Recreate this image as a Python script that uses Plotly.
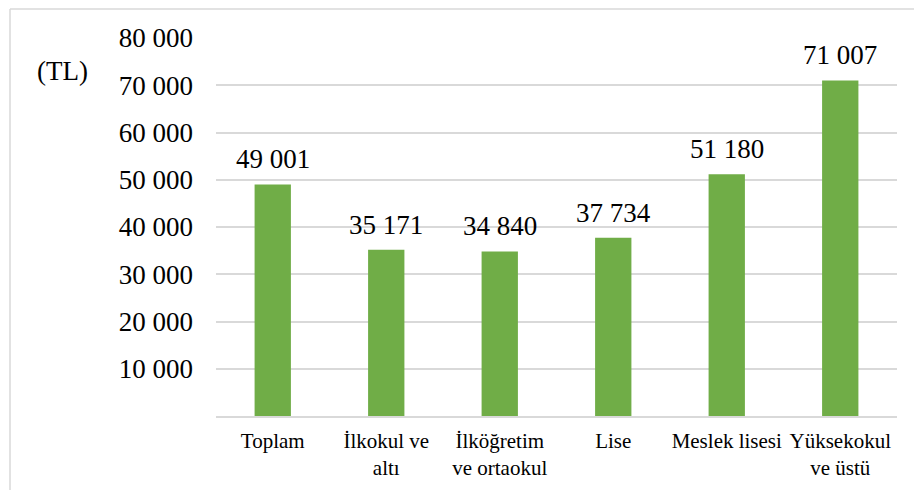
import plotly.graph_objects as go

categories = ["Toplam", "İlkokul ve<br>altı", "İlköğretim<br>ve ortaokul", "Lise", "Meslek lisesi", "Yüksekokul<br>ve üstü"]
values = [49001, 35171, 34840, 37734, 51180, 71007]
tick_vals = [10000, 20000, 30000, 40000, 50000, 60000, 70000, 80000]
tick_text = ["10 000", "20 000", "30 000", "40 000", "50 000", "60 000", "70 000", "80 000"]
unit_label = "(TL)"

FONT = "Liberation Serif, Times New Roman, serif"
GREEN = "#70AD47"
GRID = "#D9D9D9"

value_text = [f"{v:,}".replace(",", " ") for v in values]

fig = go.Figure(go.Bar(
    x=categories,
    y=values,
    marker=dict(color=GREEN, line=dict(width=0)),
    cliponaxis=False,
))

label_annotations = [
    dict(x=c, y=v, text=t, xref="x", yref="y", showarrow=False,
         xanchor="center", yanchor="bottom", yshift=8,
         font=dict(family=FONT, size=27, color="#000000"))
    for c, v, t in zip(categories, values, value_text)
]

fig.update_layout(
    width=922, height=490,
    margin=dict(l=208, r=33, t=30, b=82, autoexpand=False),
    paper_bgcolor="white", plot_bgcolor="white",
    font=dict(family=FONT, color="#000000"),
    bargap=0.68,
    showlegend=False,
    xaxis=dict(
        automargin=False,
        showgrid=False, showline=True, linecolor=GRID, linewidth=1.5,
        ticks="outside", ticklen=5, tickcolor="rgba(0,0,0,0)",
        tickfont=dict(family=FONT, size=21, color="#000000"),
        tickangle=0,
    ),
    yaxis=dict(
        automargin=False,
        range=[0, 80000], tickvals=tick_vals, ticktext=tick_text,
        showgrid=True, gridcolor=GRID, gridwidth=1.5, zeroline=False,
        showline=False, ticks="",
        ticklabelstandoff=22,
        tickfont=dict(family=FONT, size=27, color="#000000"),
    ),
    shapes=[
        dict(type="line", xref="paper", yref="paper", x0=-0.3025, x1=1.2, y0=1.0767, y1=1.0767,
             line=dict(color=GRID, width=1.5)),
        dict(type="line", xref="paper", yref="paper", x0=-0.3025, x1=-0.3025, y0=-0.5, y1=1.0767,
             line=dict(color=GRID, width=1.5)),
    ],
    annotations=label_annotations + [
        dict(text=unit_label, xref="paper", yref="paper", x=-0.225, y=0.913,
             xanchor="center", yanchor="middle", showarrow=False,
             font=dict(family=FONT, size=27, color="#000000")),
    ],
)

fig.write_html("out.html")
